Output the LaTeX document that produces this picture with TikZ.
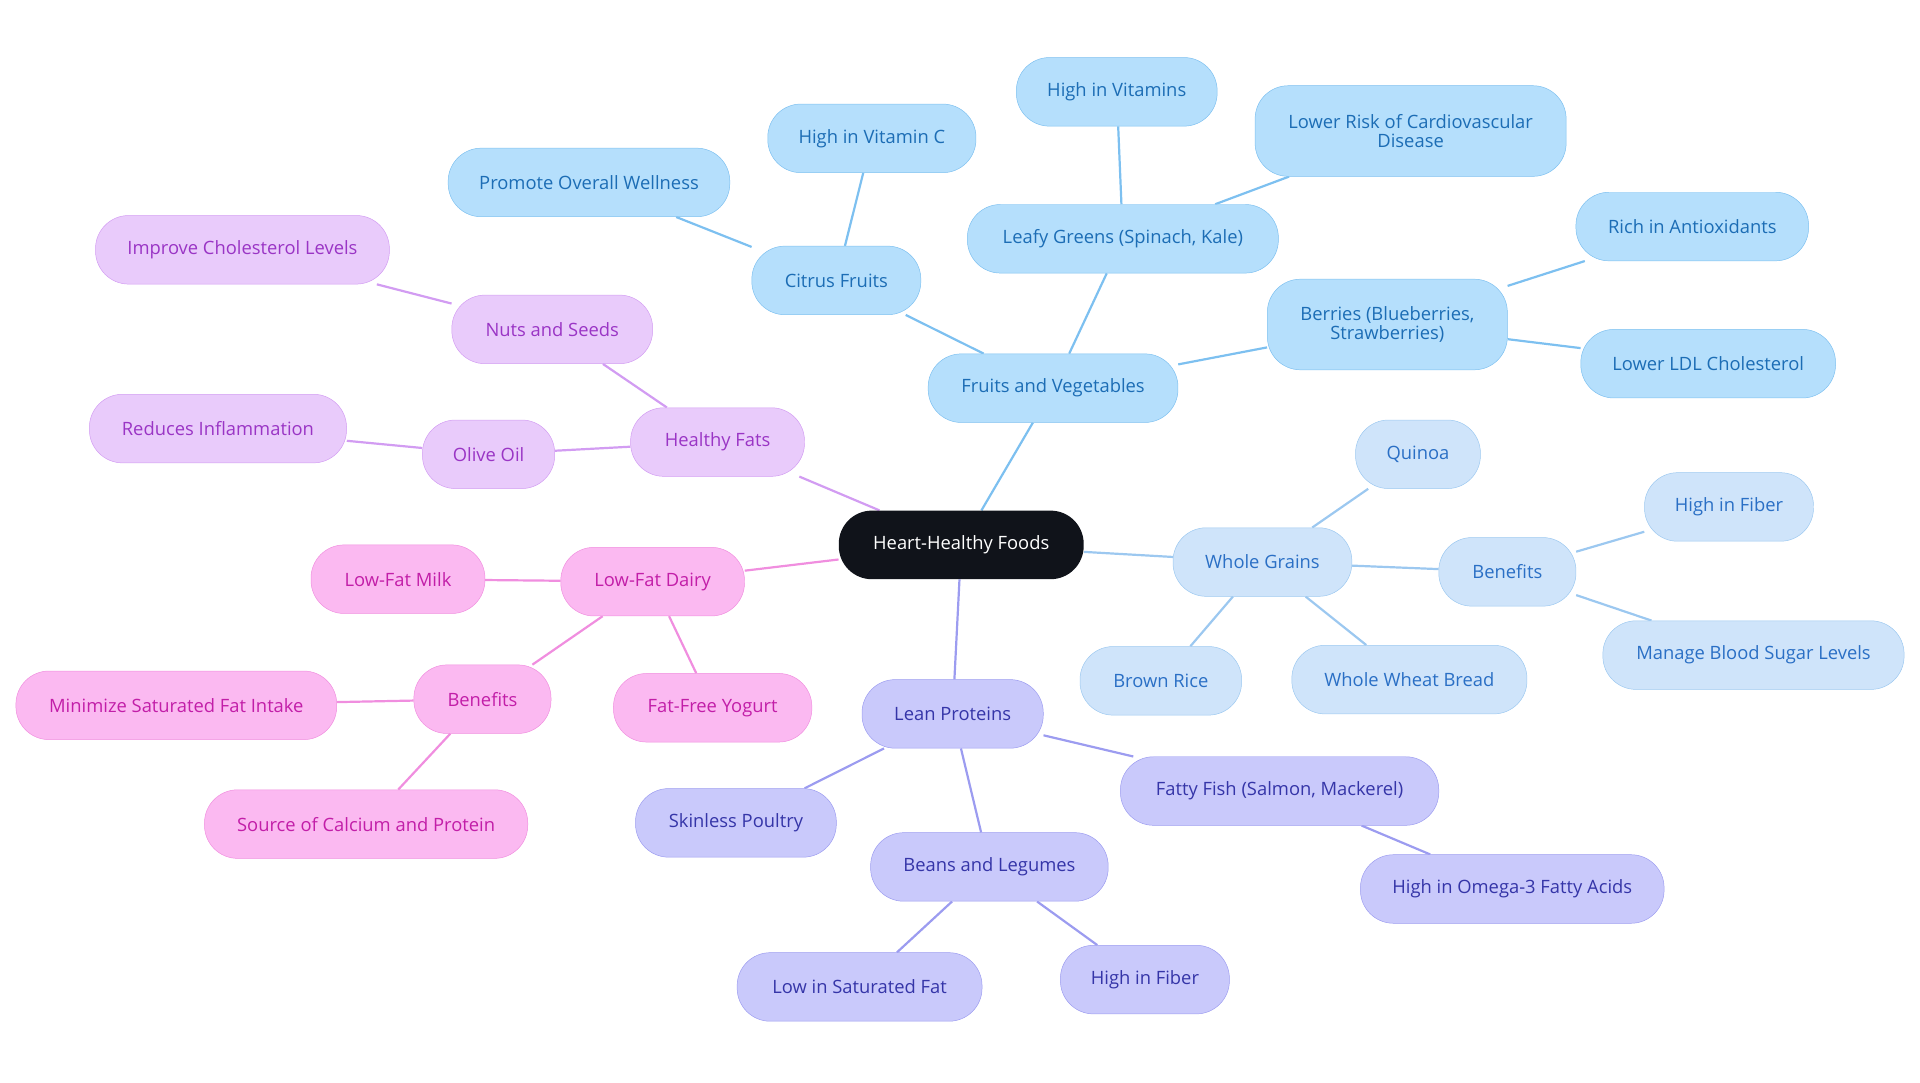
\documentclass[tikz,border=0pt]{standalone}
\usepackage{fontspec}
\setmainfont{Open Sans}
\usetikzlibrary{backgrounds}
\definecolor{bF}{HTML}{B5DFFC}\definecolor{bD}{HTML}{7DC0F0}\definecolor{bT}{HTML}{1C6DB5}
\definecolor{gF}{HTML}{CFE4FA}\definecolor{gD}{HTML}{9CC8F0}\definecolor{gT}{HTML}{2A6FC5}
\definecolor{pF}{HTML}{C9C9FB}\definecolor{pD}{HTML}{9C9CF0}\definecolor{pT}{HTML}{3535A8}
\definecolor{hF}{HTML}{E9CBFB}\definecolor{hD}{HTML}{D29CF2}\definecolor{hT}{HTML}{9A35C5}
\definecolor{dF}{HTML}{FBB9F1}\definecolor{dD}{HTML}{F08EDF}\definecolor{dT}{HTML}{C21EA8}
\definecolor{rF}{HTML}{10131A}
\tikzset{x=1pt,y=-1pt,
 base/.style={rounded corners=27pt,minimum height=56pt,font=\fontsize{15}{16}\selectfont,inner sep=2pt,align=center},
 bn/.style={base,fill=bF,draw=bD,text=bT},
 gn/.style={base,fill=gF,draw=gD,text=gT},
 pn/.style={base,fill=pF,draw=pD,text=pT},
 hn/.style={base,fill=hF,draw=hD,text=hT},
 dn/.style={base,fill=dF,draw=dD,text=dT},
 be/.style={draw=bD,line width=1.8pt},
 ge/.style={draw=gD,line width=1.8pt},
 pe/.style={draw=pD,line width=1.8pt},
 he/.style={draw=hD,line width=1.8pt},
 de/.style={draw=dD,line width=1.8pt},
 w/.style={minimum width=#1pt}}
\begin{document}
\begin{tikzpicture}
\useasboundingbox (0,0) rectangle (1568,884);
\node[base,fill=rF,text=white,w=200] (root) at (785,445) {Heart-Healthy Foods};
\node[bn,w=204] (fv) at (860,317) {Fruits and Vegetables};
\node[bn,w=138] (cf) at (683,229) {Citrus Fruits};
\node[bn,w=170] (vc) at (712,113) {High in Vitamin C};
\node[bn,w=230] (pow) at (481,149) {Promote Overall Wellness};
\node[bn,w=254] (lg) at (917,195) {Leafy Greens (Spinach, Kale)};
\node[bn,w=164] (hv) at (912,75) {High in Vitamins};
\node[bn,w=254,minimum height=74pt] (lr) at (1152,107) {Lower Risk of Cardiovascular\\Disease};
\node[bn,w=196,minimum height=74pt] (be) at (1133,265) {Berries (Blueberries,\\Strawberries)};
\node[bn,w=190] (ra) at (1382,185) {Rich in Antioxidants};
\node[bn,w=208] (ldl) at (1395,297) {Lower LDL Cholesterol};
\node[gn,w=146] (wg) at (1031,459) {Whole Grains};
\node[gn,w=102] (qu) at (1158,371) {Quinoa};
\node[gn,w=112] (wb) at (1231,467) {Benefits};
\node[gn,w=138] (wf) at (1412,414) {High in Fiber};
\node[gn,w=246] (mb) at (1432,535) {Manage Blood Sugar Levels};
\node[gn,w=132] (br) at (948,556) {Brown Rice};
\node[gn,w=192] (ww) at (1151,555) {Whole Wheat Bread};
\node[pn,w=148] (lp) at (778,583) {Lean Proteins};
\node[pn,w=164] (sp) at (601,672) {Skinless Poultry};
\node[pn,w=194] (bl) at (808,708) {Beans and Legumes};
\node[pn,w=200] (ls) at (702,806) {Low in Saturated Fat};
\node[pn,w=138] (pf) at (935,800) {High in Fiber};
\node[pn,w=260] (ff) at (1045,646) {Fatty Fish (Salmon, Mackerel)};
\node[pn,w=248] (om) at (1235,726) {High in Omega-3 Fatty Acids};
\node[hn,w=142] (hf) at (586,361) {Healthy Fats};
\node[hn,w=164] (ns) at (451,269) {Nuts and Seeds};
\node[hn,w=240] (ic) at (198,204) {Improve Cholesterol Levels};
\node[hn,w=108] (oo) at (399,371) {Olive Oil};
\node[hn,w=210] (ri) at (178,350) {Reduces Inflammation};
\node[dn,w=150] (ld) at (533,475) {Low-Fat Dairy};
\node[dn,w=142] (lm) at (325,473) {Low-Fat Milk};
\node[dn,w=162] (fy) at (582,578) {Fat-Free Yogurt};
\node[dn,w=112] (db) at (394,571) {Benefits};
\node[dn,w=262] (ms) at (144,576) {Minimize Saturated Fat Intake};
\node[dn,w=264] (sc) at (299,673) {Source of Calcium and Protein};
\begin{scope}[on background layer]
\draw[be] (root)--(fv) (fv)--(cf) (cf)--(vc) (cf)--(pow) (fv)--(lg) (lg)--(hv) (lg)--(lr) (fv)--(be) (be)--(ra) (be)--(ldl);
\draw[ge] (root)--(wg) (wg)--(qu) (wg)--(wb) (wb)--(wf) (wb)--(mb) (wg)--(br) (wg)--(ww);
\draw[pe] (root)--(lp) (lp)--(sp) (lp)--(bl) (bl)--(ls) (bl)--(pf) (lp)--(ff) (ff)--(om);
\draw[he] (root)--(hf) (hf)--(ns) (ns)--(ic) (hf)--(oo) (oo)--(ri);
\draw[de] (root)--(ld) (ld)--(lm) (ld)--(fy) (ld)--(db) (db)--(ms) (db)--(sc);
\end{scope}
\end{tikzpicture}
\end{document}
